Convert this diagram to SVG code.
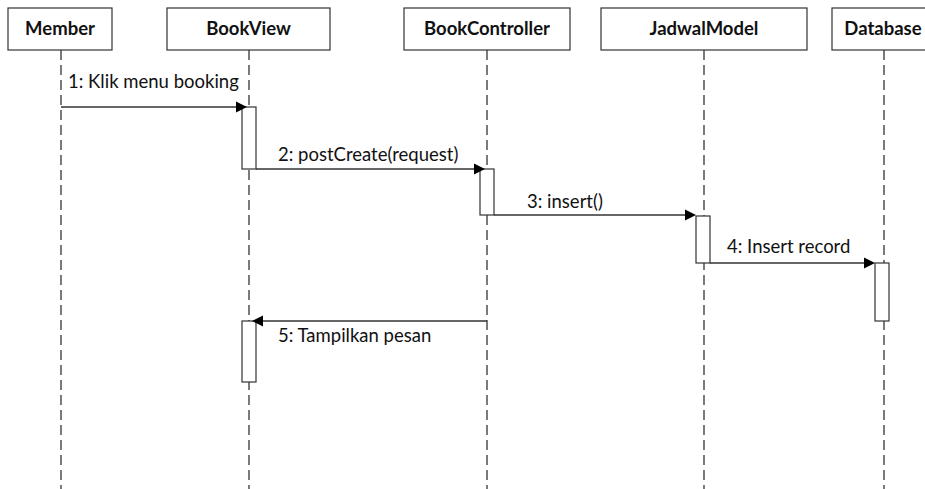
<svg xmlns="http://www.w3.org/2000/svg" width="925" height="489" viewBox="0 0 925 489">
  <style>
    .head { fill: #ffffff; stroke: #333333; stroke-width: 1.2; }
    .title { font-family: Lato, "Liberation Sans", sans-serif; font-weight: bold; font-size: 18.5px; fill: #111111; text-anchor: middle; }
    .life { stroke: #5a5a5a; stroke-width: 1.6; stroke-dasharray: 10 5; fill: none; }
    .act { fill: #ffffff; stroke: #333333; stroke-width: 1.2; }
    .msg { stroke: #333333; stroke-width: 1.4; fill: none; }
    .lbl { font-family: Lato, "Liberation Sans", sans-serif; font-size: 18.5px; fill: #111111; }
    .tip { fill: #000000; }
  </style>

  <rect width="925" height="489" fill="#ffffff"/>

  <!-- lifelines -->
  <g id="lifelines">
    <line class="life" x1="61" y1="50" x2="61" y2="489"/>
    <line class="life" x1="249" y1="50" x2="249" y2="489"/>
    <line class="life" x1="487" y1="50" x2="487" y2="489"/>
    <line class="life" x1="704" y1="50" x2="704" y2="489"/>
    <line class="life" x1="884" y1="50" x2="884" y2="489"/>
  </g>

  <!-- participants -->
  <g id="member">
    <rect class="head" x="8" y="8" width="104" height="42"/>
    <text class="title" x="60" y="35">Member</text>
  </g>
  <g id="bookview">
    <rect class="head" x="167" y="8" width="163" height="42"/>
    <text class="title" x="248.5" y="35">BookView</text>
    <rect class="act" x="242" y="107" width="14" height="62"/>
    <rect class="act" x="242" y="321" width="14" height="61"/>
  </g>
  <g id="bookcontroller">
    <rect class="head" x="404" y="8" width="166" height="42"/>
    <text class="title" x="487" y="35">BookController</text>
    <rect class="act" x="480" y="169" width="14" height="46"/>
  </g>
  <g id="jadwalmodel">
    <rect class="head" x="601" y="8" width="206" height="42"/>
    <text class="title" x="704" y="35">JadwalModel</text>
    <rect class="act" x="696" y="216" width="14" height="47"/>
  </g>
  <g id="database">
    <rect class="head" x="832" y="8" width="105" height="42"/>
    <text class="title" x="883" y="35">Database</text>
    <rect class="act" x="875" y="263" width="14" height="58"/>
  </g>

  <!-- messages -->
  <g id="connectors">
    <line class="msg" x1="61" y1="107" x2="238" y2="107"/>
    <path class="tip" d="M247,107 L236,101.5 L236,112.5 Z"/>

    <line class="msg" x1="256" y1="169" x2="476" y2="169"/>
    <path class="tip" d="M485,169 L474,163.5 L474,174.5 Z"/>

    <line class="msg" x1="494" y1="215" x2="687" y2="215"/>
    <path class="tip" d="M696,215 L685,209.5 L685,220.5 Z"/>

    <line class="msg" x1="710" y1="263" x2="866" y2="263"/>
    <path class="tip" d="M875,263 L864,257.5 L864,268.5 Z"/>

    <line class="msg" x1="487" y1="321" x2="262" y2="321"/>
    <path class="tip" d="M252,321 L263,315.5 L263,326.5 Z"/>
  </g>

  <!-- message labels -->
  <g id="labels">
    <text class="lbl" x="68" y="88">1: Klik menu booking</text>
    <text class="lbl" x="278" y="161">2: postCreate(request)</text>
    <text class="lbl" x="527" y="208">3: insert()</text>
    <text class="lbl" x="727" y="253">4: Insert record</text>
    <text class="lbl" x="278" y="342">5: Tampilkan pesan</text>
  </g>
</svg>
